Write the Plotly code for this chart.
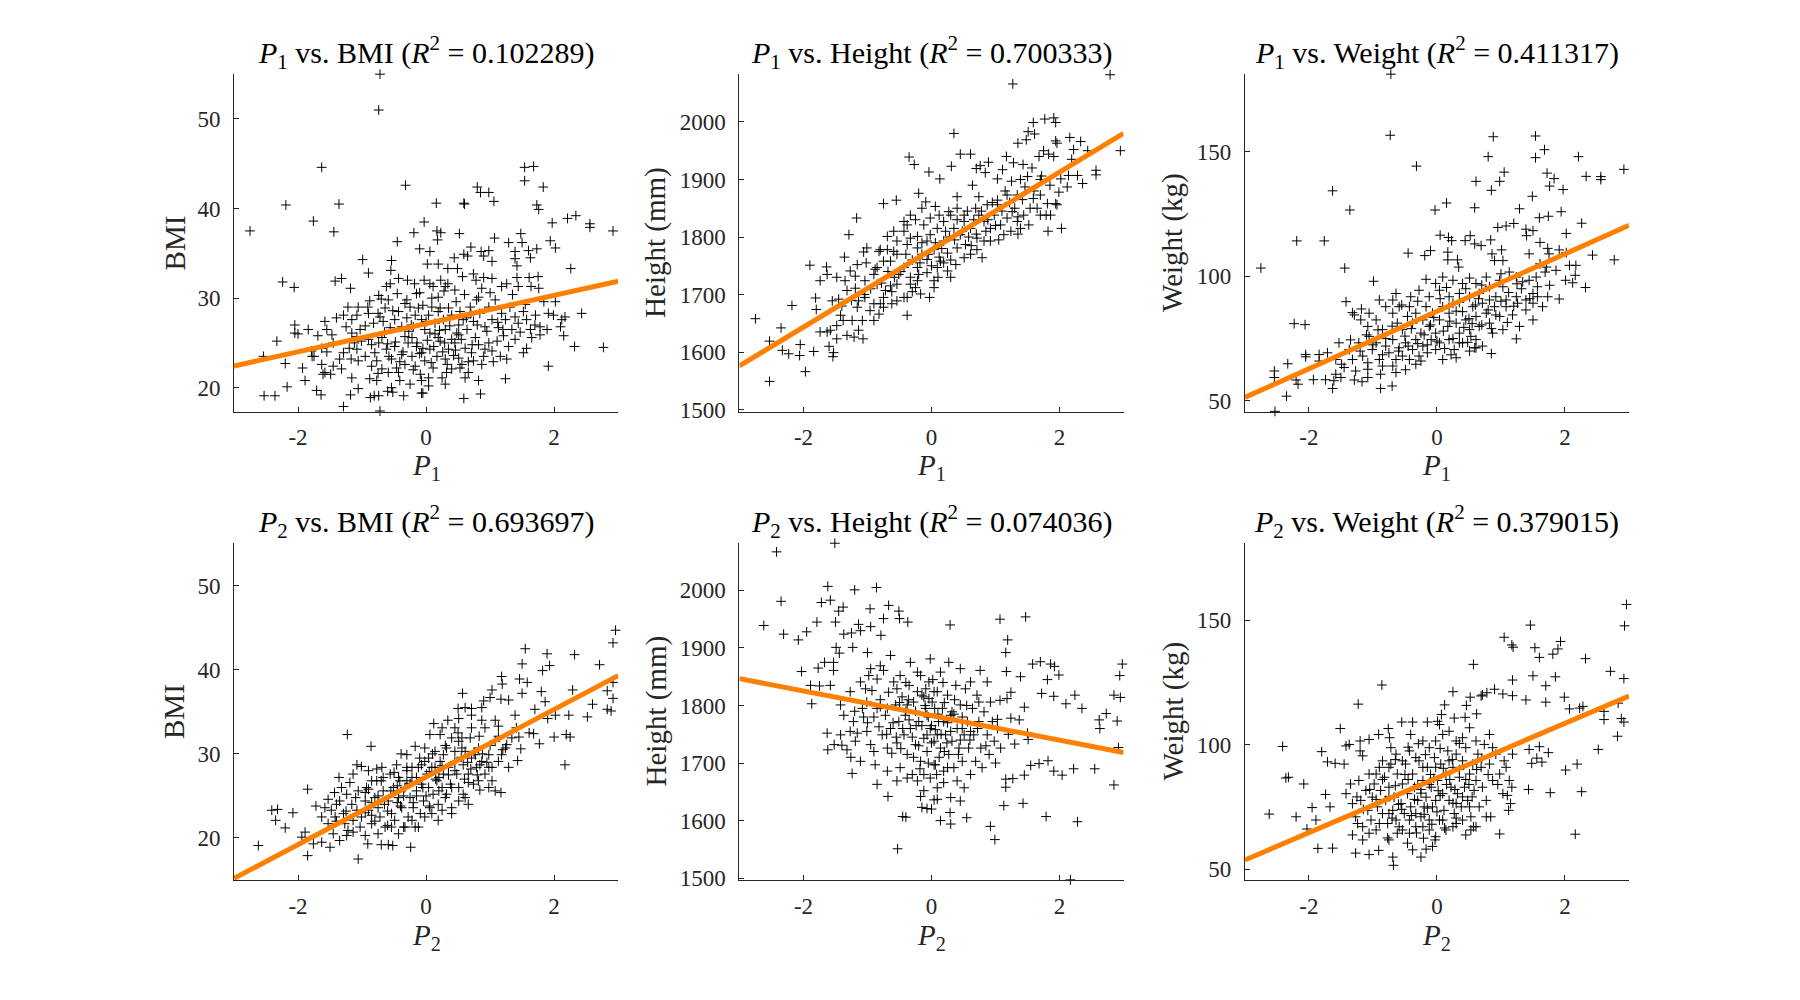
import plotly.graph_objects as go

# ---------------- data ----------------
# (P1, BMI)
p1_bmi = [
(-0.72,55.0),(-0.74,51.0),(-1.63,44.6),(-2.19,40.4),(-1.36,40.5),(-1.76,38.6),(-2.75,37.5),(-1.44,37.4),(-0.32,42.6),(1.54,44.6),
(1.68,44.7),(1.54,43.1),(1.83,42.4),(0.80,42.4),(0.85,41.8),(0.98,41.8),(1.06,40.8),(0.16,40.6),(0.59,40.6),(0.60,40.5),
(1.73,40.4),(1.76,39.9),(-0.03,38.5),(1.97,38.4),(2.21,38.9),(2.34,39.2),(2.56,38.3),(2.56,37.9),(2.92,37.5),(-0.19,37.3),
(0.17,37.5),(0.23,37.3),(0.52,37.2),(-0.45,36.3),(0.18,36.5),(1.48,37.2),(1.07,36.7),(1.94,36.4),(2.02,35.6),(2.26,33.3),
(2.43,28.3),(2.32,24.6),(2.77,24.5),(1.91,22.4),(1.24,21.0),(0.85,19.3),(0.59,18.8),(-0.07,19.4),(-0.05,19.4),(-0.35,19.1),
(-0.52,19.5),(-0.60,19.6),(-0.81,19.1),(-0.87,18.9),(-0.74,19.1),(-0.72,17.4),(-1.29,17.9),(-1.18,19.2),(-1.06,19.9),(-1.64,19.2),
(-1.71,19.7),(-1.89,20.8),(-2.17,20.1),(-2.36,19.1),(-2.53,19.1),(-2.54,23.5),(-2.33,25.2),(-2.20,22.7),(-1.93,22.2),(-2.24,31.8),
(-2.06,31.2),(-0.99,34.3),(-0.90,32.8),(-0.54,34.2),(-1.42,31.9),(-1.32,32.2),
(-0.10,35.5),(0.06,35.2),(0.44,34.5),(0.59,34.9),(0.65,34.7),(0.70,35.7),(0.86,35.2),(0.98,35.3),(0.90,34.7),(1.03,34.1),
(1.29,36.2),(1.39,35.2),(1.39,34.4),(1.50,36.2),(1.60,35.3),(1.63,34.5),(1.73,35.5),(0.02,33.8),(0.19,33.8),(0.34,33.3),
(0.49,33.3),(1.42,33.6),
(-0.55,33.1),(-0.43,32.2),(-0.29,32.0),(-0.56,31.6),(-0.62,31.3),(-0.18,31.6),(-0.15,30.5),(-0.03,32.0),(0.06,31.6),(0.11,31.3),
(0.23,32.0),(0.30,31.3),(0.34,31.6),(0.45,30.9),(0.57,32.4),(0.74,32.7),(0.78,32.0),(0.90,32.3),(1.03,32.2),(1.18,31.3),
(1.26,31.6),(1.42,32.3),(1.44,31.3),(1.61,32.3),(1.75,32.4),(1.64,31.3),(1.76,31.1),(0.87,31.1),(0.82,30.1),(0.19,30.1),
(0.09,30.0),(-0.30,29.8),(-0.74,30.3),(-0.70,29.9),(-1.18,31.1),
(-2.05,27.0),(-2.05,26.1),(-2.00,26.0),(-1.84,26.5),(-1.69,25.8),(-1.58,27.4),(-1.55,26.5),(-1.47,25.9),(-1.29,28.1),(-1.22,29.0),
(-1.16,27.6),(-1.08,28.1),(-1.06,29.0),(-1.03,26.5),(-0.90,28.3),(-0.91,29.0),(-0.82,27.2),(-0.75,28.3),(-0.67,27.4),(-0.64,28.9),
(-0.59,29.8),(-0.56,26.7),(-0.49,27.6),(-0.43,28.5),(-0.38,26.8),(-0.30,27.8),(-0.25,29.0),(-0.20,26.8),(-0.17,28.1),(-0.12,28.9),
(-0.07,27.6),(-0.02,26.5),(0.04,28.1),(0.09,29.0),(0.14,27.2),(0.19,28.5),(0.27,27.6),(0.30,26.5),(0.35,28.9),(0.40,28.1),
(0.51,27.0),(0.53,28.5),(0.58,27.6),(0.64,26.5),(0.69,29.0),(0.74,27.4),(0.79,29.8),(0.84,28.3),(0.92,26.8),(0.98,29.0),
(1.03,27.6),(1.08,29.8),(1.13,26.7),(1.18,28.3),(1.24,27.6),(1.31,29.0),(1.34,26.5),(1.39,27.9),(1.44,27.2),(1.52,28.5),
(1.57,27.6),(1.63,26.5),(1.71,28.1),(1.78,26.8),(1.84,29.6),(1.91,28.3),(2.02,29.6),(1.99,28.1),(2.10,26.8),(2.12,27.6),
(2.17,27.9),(1.89,26.5),(2.15,25.8),
(-1.78,23.5),(-1.75,23.5),(-1.63,22.6),(-1.61,21.5),(-1.58,21.7),(-1.49,21.5),(-1.45,22.4),(-1.35,23.2),(-1.32,22.1),(-1.20,24.4),
(-1.17,23.2),(-1.16,21.1),(-1.08,24.3),(-1.06,23.0),(-1.01,25.2),(-0.95,23.5),(-0.88,21.0),(-0.85,22.4),(-0.80,23.9),(-0.77,23.0),
(-0.74,25.0),(-0.69,22.1),(-0.62,24.3),(-0.59,21.7),(-0.54,23.2),(-0.49,24.6),(-0.46,22.2),(-0.41,20.8),(-0.38,23.7),(-0.33,22.6),
(-0.28,25.0),(-0.25,20.4),(-0.22,23.5),(-0.17,22.4),(-0.15,24.6),(-0.09,21.5),(-0.07,23.9),(-0.02,23.0),(0.04,21.1),(0.06,24.3),
(0.11,22.2),(0.17,23.5),(0.22,25.2),(0.25,21.1),(0.30,23.2),(0.35,24.3),(0.40,22.1),(0.45,25.0),(0.51,23.3),(0.56,22.6),
(0.61,24.4),(0.66,21.7),(0.71,23.9),(0.74,23.0),(0.82,24.8),(0.87,22.6),(0.90,23.5),(0.98,25.0),(1.03,24.1),(1.11,25.2),
(1.16,23.5),(1.26,23.2),(1.29,24.6),(1.39,25.4),(1.52,23.9),(1.57,24.4),(1.65,25.6),(1.78,25.9),(0.06,26.1),(-0.33,25.7),
(-0.69,25.6),(-1.08,25.7),(-0.90,25.4),(-0.22,25.6),(0.19,25.6),(0.51,25.9),(0.77,25.6),(0.40,25.4),(-1.16,26.1),(-1.45,25.0),
(-1.63,24.4),(-1.79,24.1),(-1.29,23.9),(-0.77,20.8),(-0.54,20.0),(-0.43,21.7),(0.04,20.2),(0.30,20.4),(0.61,21.1),(0.82,20.8),
(0.32,21.7),(-0.07,20.8),(0.53,22.2),
(-0.65,26.2),(-0.48,25.1),(-0.36,24.0),(-0.27,26.3),(-0.14,25.0),(-0.05,24.4),(0.02,25.3),(0.12,24.6),(0.21,26.4),(0.29,25.0),
(0.37,26.9),(0.46,24.2),(0.55,25.4),(0.63,27.8),(0.72,24.8),(0.80,27.0),(0.95,26.3),(1.12,27.3),(1.21,25.8),(-0.58,23.5),
(-0.41,22.9),(-0.20,22.0),(-0.10,23.8),(0.08,22.8),(0.26,24.0),(0.43,23.6),(0.66,22.9),(0.92,24.3),(-0.85,24.8),(-0.95,26.9),
(-1.12,25.0),(-1.25,26.8),(-1.40,27.8),(-0.72,27.9),(-0.52,28.6),(-0.33,29.4),(-0.05,29.2),(0.22,28.9),(0.47,29.6),(0.70,28.3),
(1.00,30.6),(1.35,30.4),(1.55,29.3),(1.70,27.0),(1.47,26.2),(0.28,30.8),(-0.10,30.6),(-0.45,30.5),(-0.88,29.7),(0.60,30.4),
(0.14,26.0),(-0.23,27.0),(0.48,26.1),(-0.60,24.9),(0.00,27.4),(0.33,22.6),(-0.75,21.6),(1.05,22.9),(1.20,26.5),(-1.55,24.0),
]

# (P1, Height mm)
p1_height = [
(2.79,2082),(1.27,2066),(1.77,2005),(1.91,2007),(1.94,1999),(1.59,1999),(1.51,1983),(1.61,1979),(0.35,1980),(1.35,1963),
(1.48,1969),(1.94,1967),(1.96,1963),(2.16,1973),(2.33,1966),(1.75,1950),(1.68,1940),(1.83,1944),(1.91,1940),(2.22,1952),
(2.44,1950),(2.95,1950),(2.19,1935),(-0.35,1939),(-0.27,1926),(0.45,1944),(0.61,1944),(0.31,1923),(-0.04,1913),(0.13,1901),
(0.89,1930),(0.76,1924),(1.17,1940),(1.28,1929),(1.43,1926),(1.57,1920),(1.11,1917),(2.57,1916),(2.57,1908),(2.28,1907),
(2.36,1893),(2.14,1907),(2.02,1901),(1.72,1906),(0.84,1912),(0.70,1919),(1.03,1901),(1.25,1897),(1.39,1900),(-0.75,1858),
(-0.55,1864),(-1.17,1833),(-1.29,1804),(-1.90,1751),(-1.06,1774),(-1.36,1765),(-1.64,1748),(-1.74,1724),(-2.18,1681),(-2.75,1658),
(-2.35,1642),(-2.53,1619),(-2.33,1603),(-2.23,1597),(-2.05,1613),(-2.06,1594),(-1.84,1601),(-1.97,1566),(-2.53,1549),(-1.54,1592),
(-1.60,1610),(-1.53,1599),(-0.38,1664),(-0.03,1695),(2.03,1815),(1.82,1810),(1.35,1805),
(-1.81,1694),(-1.80,1674),(-1.74,1635),(-1.63,1635),(-1.58,1638),(-1.48,1646),(-1.42,1664),(-1.32,1629),(-1.21,1626),(-1.14,1638),
(-1.07,1623),(-1.38,1655),(-1.24,1655),(-1.08,1655),(-0.90,1655),(-1.48,1623),(-1.55,1689),(-1.45,1692),(-1.63,1735),(-1.48,1730),
(-1.35,1724),(-1.19,1732),(-1.02,1755),(-1.04,1724),(-1.32,1707),(-1.19,1711),(-1.14,1689),(-1.04,1695),(-0.85,1747),(-0.85,1718),
(-0.75,1695),(-0.90,1684),(-0.82,1666),(-0.75,1678),(-0.62,1684),(-0.72,1707),(-0.64,1715),(-0.54,1689),(-0.43,1695),(-0.33,1718),
(-0.25,1712),(-0.17,1701),(-0.51,1735),(-0.64,1758),(-0.54,1770),(-0.43,1747),(-0.33,1730),(-0.22,1747),(-0.15,1770),(-0.07,1738),
(0.04,1724),(0.09,1747),(0.14,1758),(0.25,1741),(0.30,1730),(0.38,1752),(0.51,1764),(0.61,1770),(0.71,1778),(0.79,1764),
(0.82,1793),(0.40,1781),(0.25,1772),(0.04,1778),(-0.07,1793),(-0.22,1781),(-0.33,1798),(-0.43,1810),(-0.54,1793),(-0.69,1778),
(-0.80,1778),(-0.59,1775),(-0.38,1821),(-0.25,1830),(-0.12,1821),(-0.02,1833),(0.09,1815),(0.19,1827),(0.30,1838),(0.35,1815),
(0.45,1804),(0.51,1827),(0.61,1815),(0.69,1850),(0.74,1838),(0.82,1827),(0.92,1815),(0.98,1838),(1.03,1856),(1.08,1821),
(1.13,1804),(1.18,1833),(1.26,1844),(1.34,1827),(1.44,1838),(1.54,1850),(1.59,1867),(1.70,1873),(1.81,1858),(1.79,1838),
(1.94,1858),(1.70,1838),(1.46,1887),(1.34,1873),(1.18,1873),(1.03,1864),(0.87,1856),(0.74,1870),(0.64,1890),(0.40,1870),
(0.40,1850),(0.27,1844),(0.12,1838),(0.06,1853),(-0.09,1861),(-0.20,1876),(-0.33,1838),(-0.43,1827),(-0.59,1810),(-0.69,1801),
(-0.82,1775),(-1.01,1781),(-0.75,1758),(-0.88,1744),(-1.16,1752),(-1.27,1741),(-0.22,1801),(-0.02,1804),(0.19,1793),(0.53,1787),
(0.71,1798),(0.92,1793),(0.51,1838),(-0.15,1850),(-0.38,1787),(-0.07,1761),(0.19,1755),(-0.22,1724),(0.04,1712),(-0.38,1695),
(-0.54,1718),(-0.80,1684),(-0.96,1672),(-1.16,1678),(1.24,1810),(1.39,1815),(1.52,1821),(1.86,1838),(1.96,1856),(2.12,1887),
(1.99,1878),
(-0.30,1760),(-0.18,1755),(-0.05,1770),(0.06,1790),(0.16,1780),(0.28,1800),(0.36,1795),(0.48,1810),(0.58,1800),(0.66,1830),
(0.78,1845),(0.88,1830),(1.00,1820),(1.10,1845),(1.22,1860),(1.30,1850),(1.42,1865),(1.60,1880),(1.70,1900),(1.85,1890),
(-0.48,1740),(-0.58,1730),(-0.68,1740),(-0.78,1720),(-0.95,1710),(-1.05,1700),(-1.25,1690),(-1.40,1680),(-0.15,1790),(0.00,1750),
(0.12,1765),(0.22,1810),(0.40,1830),(0.56,1845),(0.70,1805),(0.95,1860),(1.15,1880),(1.50,1905),(-0.40,1770),(-0.20,1735),
(0.30,1760),(0.62,1785),(0.85,1810),(1.05,1795),(1.35,1835),(1.65,1850),(-0.90,1735),(-0.62,1705),(-0.30,1705),(0.10,1730),
]

# (P1, Weight kg)
p1_weight = [
(-0.72,181.1),(-0.73,156.6),(-0.32,144.2),(-1.63,134.3),(-1.36,126.6),(-2.19,114.2),(-1.76,114.2),(-2.75,103.3),(-1.44,103.3),(0.88,156.0),
(1.54,156.3),(1.68,150.8),(1.54,147.6),(0.80,148.0),(2.21,148.0),(1.72,141.4),(1.83,139.2),(1.76,136.2),(1.05,141.8),(0.61,138.1),
(0.98,138.1),(0.85,134.5),(1.97,134.8),(2.33,140.1),(2.56,140.0),(2.56,138.8),(2.92,142.9),(1.49,132.1),(0.15,129.4),(0.59,127.5),
(-0.03,126.6),(1.29,127.1),(1.94,125.9),(1.60,123.5),(1.74,124.1),(2.26,121.3),(2.02,117.2),(1.50,118.3),(2.43,108.5),(2.77,106.6),
(2.32,95.5),(1.91,90.9),(1.24,74.9),(0.85,69.0),(0.59,71.3),(-0.70,56.0),(-0.88,55.0),(-1.63,55.0),(-2.35,51.9),(-2.53,45.8),
(-2.54,62.0),(-2.54,59.4),(-2.33,64.9),(-2.17,56.7),(-2.20,58.4),(-1.93,58.5),(-2.05,68.6),(-2.05,67.7),(-2.23,81.0),(-2.06,80.6),
(-1.84,68.6),(-1.74,58.5),(-1.61,58.1),(-1.50,59.4),(-1.29,58.4),(-1.17,57.7),(-0.99,98.0),(-0.90,90.5),(-1.42,89.8),(-1.32,85.4),
(-1.18,86.9),(-0.45,109.3),(-0.19,108.3),(-0.10,110.3),(0.05,116.5),(0.18,115.6),(0.23,114.3),(0.17,109.7),(0.17,106.6),(0.32,106.6),
(0.34,103.7),(0.52,116.3),(0.44,114.3),(0.59,113.0),(0.69,112.3),(0.84,114.6),(0.86,109.0),(0.90,106.3),(1.01,110.6),(1.03,106.3),
(1.08,120.2),(0.95,119.6),(1.20,121.2),(1.39,118.9),(1.40,116.3),(1.44,109.0),(1.61,113.6),(1.73,111.2),(1.75,109.0),(1.91,110.6),
(2.02,109.5),(2.17,104.4),(2.07,104.4),(2.01,98.4),(2.12,97.4),(2.16,100.4),(1.86,102.4),(1.71,103.7),(1.61,105.0),(1.69,101.7),
(-0.17,98.8),(-0.02,97.1),(0.09,99.7),(0.25,98.4),(0.40,97.1),(0.51,99.3),(0.61,97.1),(0.77,99.7),(0.82,95.8),(0.98,98.4),
(1.03,95.8),(1.13,101.7),(1.24,99.7),(1.34,97.8),(1.44,98.4),(1.55,99.7),(1.57,95.8),(1.76,96.4),(1.73,91.8),(1.50,93.1),
(1.39,90.5),(1.24,91.8),(1.08,90.5),(0.92,91.8),(0.82,90.5),(0.66,93.1),(0.51,91.8),(0.35,93.1),(0.19,91.8),(0.04,94.4),
(-0.12,91.8),(-0.28,94.4),(-0.41,91.8),(-0.64,93.1),(-0.69,90.5),
(-1.29,84.5),(-1.19,82.5),(-1.08,79.9),(-1.06,85.2),(-0.95,82.5),(-0.85,78.6),(-0.80,87.8),(-0.69,85.2),(-0.62,81.2),(-0.59,87.8),
(-0.54,78.6),(-0.46,83.9),(-0.43,87.8),(-0.38,81.2),(-0.33,85.2),(-0.25,77.2),(-0.22,82.5),(-0.17,87.8),(-0.12,79.9),(-0.07,85.2),
(-0.02,77.2),(0.04,82.5),(0.09,87.8),(0.17,79.9),(0.19,85.2),(0.25,89.2),(0.30,81.2),(0.35,77.2),(0.40,85.8),(0.45,82.5),
(0.51,78.6),(0.56,87.8),(0.61,83.9),(0.66,79.9),(0.71,89.2),(0.77,85.2),(0.82,81.2),(0.90,87.8),(0.98,83.9),(1.03,78.6),
(1.08,87.8),(1.18,84.5),(1.26,89.2),(1.29,79.9),(1.39,86.5),(1.50,89.2),(1.57,91.8),(1.65,87.8),(1.50,82.5),(0.53,75.9),
(0.35,73.3),(0.61,71.3),
(-1.84,66.0),(-1.71,69.3),(-1.58,66.6),(-1.53,73.3),(-1.45,63.4),(-1.37,70.6),(-1.32,66.6),(-1.22,73.3),(-1.16,68.0),(-1.08,65.3),
(-1.06,75.9),(-1.01,70.6),(-0.95,73.3),(-0.90,66.6),(-0.85,64.0),(-0.80,72.0),(-0.75,69.3),(-0.69,74.6),(-0.64,66.6),(-0.59,71.3),
(-0.54,68.0),(-0.49,73.3),(-0.43,66.6),(-0.38,70.6),(-0.33,74.6),(-0.28,68.0),(-0.22,72.0),(-0.15,69.3),(-0.09,74.6),(-0.02,70.6),
(0.04,73.3),(0.09,66.6),(0.19,74.6),(0.27,70.6),(0.30,67.3),(0.40,73.3),(0.51,70.0),(0.61,74.6),(0.71,72.0),(0.87,77.2),
(-1.58,60.7),(-1.49,64.7),(-1.27,62.0),(-1.08,62.7),(-0.88,60.7),(-0.69,64.0),(-0.64,61.4),(-0.49,62.5),(-0.33,64.7),(-1.08,59.4),
(-0.50,76.0),(-0.40,79.0),(-0.30,73.0),(-0.20,76.5),(-0.10,80.5),(0.00,74.0),(0.10,78.0),(0.20,82.0),(0.30,86.0),(0.42,79.5),
(0.50,83.0),(0.60,88.5),(0.70,80.5),(0.80,86.5),(0.92,84.5),(1.00,90.0),(1.12,93.5),(1.20,88.0),(1.32,95.0),(1.45,91.0),
(-0.70,80.0),(-0.80,75.0),(-0.92,78.5),(-1.00,72.5),(-1.10,76.5),(-1.20,70.0),(-1.35,74.5),(-0.55,88.5),(-0.30,90.0),(0.05,91.0),
(0.15,95.5),(0.45,95.0),(0.70,96.5),(-0.60,70.0),(-0.25,66.0),(0.12,71.0),(0.25,75.0),(0.55,81.0),(0.85,79.0),(-0.45,72.0),
(-0.05,83.5),(0.35,89.5),(0.65,91.0),(1.10,81.5),(-0.85,68.5),(-0.15,72.5),(0.22,68.5),(0.48,73.5),(1.25,97.0),(1.00,101.0),
]

# (P2, BMI)
p2_bmi = [
(2.96,44.7),(2.92,43.2),(1.55,42.5),(1.89,41.9),(2.32,41.8),(1.50,40.7),(1.93,40.5),(2.71,40.6),(1.82,39.9),(1.18,39.2),
(1.46,38.9),(1.58,38.5),(1.19,38.3),(0.57,37.2),(1.50,37.2),(1.80,37.4),(2.29,37.6),(2.83,37.5),(2.92,38.5),(2.92,36.6),
(2.60,35.9),(2.83,35.3),(2.89,35.1),(2.52,34.4),(2.23,34.6),(1.86,36.2),(1.70,35.3),(2.02,34.6),(1.90,34.2),(1.03,37.6),
(0.90,36.3),(1.00,36.7),(1.17,36.5),(1.29,36.4),(1.39,34.6),(1.41,33.1),(1.61,32.5),(1.68,32.4),(1.77,31.2),(2.00,32.0),
(2.19,32.3),(2.25,32.0),(2.17,28.7),(1.43,29.2),(1.48,30.6),(1.26,31.1),(1.13,32.1),(1.17,25.4),(0.98,26.0),(0.84,25.7),
(0.50,35.4),(0.61,35.5),(0.71,35.4),(0.87,35.5),(0.51,34.2),(0.71,34.6),(0.87,34.0),(1.08,34.0),(0.92,33.1),(0.71,33.1),
(1.13,33.3),(0.12,33.6),(0.34,34.0),(0.25,33.1),(0.45,33.1),(0.06,32.3),(0.22,32.3),(0.40,31.9),(0.56,31.9),(0.69,31.9),
(0.83,32.1),(-0.02,30.7),(-0.17,30.9),(-0.30,29.9),(-0.39,30.0),(-1.23,32.3),(-0.86,30.9),(-1.36,27.2),(-1.85,25.8),(-1.53,24.6),
(-1.72,23.8),(-1.63,22.5),(-2.41,23.3),(-2.32,23.4),(-2.35,22.1),(-2.08,23.0),(-2.20,21.2),(-1.89,20.7),(-1.94,20.1),(-2.62,19.1),
(-1.85,17.9),(-1.76,19.3),(-1.63,19.5),(-1.50,18.9),(-1.06,17.5),(-0.91,19.3),(-0.70,19.2),(-0.59,19.2),(-0.52,19.1),(-0.24,18.9),
(-1.14,27.6),(-1.01,28.5),(-1.43,25.4),
(-1.58,23.6),(-1.48,23.3),(-1.42,22.5),(-1.35,24.4),(-1.29,22.9),(-1.27,21.7),(-1.22,20.9),(-1.16,24.0),(-1.14,22.1),(-1.08,23.3),
(-1.06,25.6),(-1.03,21.3),(-1.01,22.5),(-0.95,24.4),(-0.93,26.0),(-0.90,23.3),(-0.85,21.7),(-0.80,24.8),(-0.77,26.8),(-0.75,23.6),
(-0.72,22.5),(-0.69,28.4),(-0.67,25.6),(-0.64,21.3),(-0.59,24.4),(-0.56,27.6),(-0.54,22.9),(-0.51,26.0),(-0.49,22.1),(-0.46,28.7),
(-0.43,24.8),(-0.41,26.8),(-0.38,23.6),(-0.35,21.3),(-0.33,26.0),(-0.30,28.4),(-0.28,22.5),(-0.25,24.8),(-0.22,27.2),(-0.20,23.6),
(-0.17,21.3),(-0.15,25.6),(-0.12,28.4),(-0.09,22.9),(-0.07,26.4),(-0.04,24.4),(-0.02,29.1),(0.01,27.6),(0.04,26.0),(0.06,23.6),
(0.09,28.4),(0.11,25.2),(0.14,30.3),(0.17,26.8),(0.19,24.0),(0.22,29.1),(0.25,26.0),(0.27,27.6),(0.30,24.8),(0.32,30.7),
(0.35,28.4),(0.38,26.4),(0.40,23.6),(0.45,29.1),(0.48,27.6),(0.51,26.0),(0.56,30.7),(0.58,28.7),(0.61,24.8),(0.66,27.6),
(0.71,29.5),(0.74,26.4),(0.79,28.4),(0.82,30.7),(0.87,29.1),(0.92,27.6),(0.98,29.9),(1.03,28.4),(1.08,31.5),(1.13,29.1),
(1.18,29.9),(1.24,30.7),(1.29,28.4),(1.34,31.9),(-1.24,25.2),(-1.32,26.0),(-1.40,24.0),(-1.53,21.7),(-1.45,20.5),(-1.35,19.7),
(-1.24,20.3),(-1.14,20.7),(-0.95,20.3),(-0.85,22.7),(-0.75,20.5),(-0.54,21.3),(-0.43,20.5),(-0.33,21.3),(-0.22,22.1),(-0.12,21.3),
(-0.02,22.5),(0.09,22.9),(0.19,22.1),(0.25,23.3),(0.40,22.9),(0.51,24.4),(0.58,25.2),(0.66,24.0),(-1.19,26.6),(-1.08,28.7),
(-0.90,28.0),(-0.77,28.2),(-0.67,27.2),(-0.85,26.8),(-0.95,25.4),(-0.43,27.2),(-0.30,26.8),(-0.22,28.4),(-0.07,28.7),(0.04,29.5),
(0.14,28.4),(0.27,29.9),(0.45,30.3),(0.51,31.5),(0.61,30.3),(0.77,29.9),(0.84,28.7),(0.66,26.6),(0.82,26.8),(0.98,28.4),
(1.08,25.6),(1.03,26.8),
(-0.95,23.0),(-0.85,24.2),(-0.75,25.0),(-0.65,24.0),(-0.55,25.6),(-0.45,26.2),(-0.35,25.0),(-0.25,26.5),(-0.15,27.2),(-0.05,26.0),
(0.05,27.9),(0.15,27.0),(0.25,28.6),(0.35,27.5),(0.45,28.0),(0.55,29.6),(0.65,29.0),(0.75,30.2),(0.88,30.0),(1.00,31.0),
(-0.60,23.2),(-0.40,23.8),(-0.20,24.2),(0.00,25.0),(0.20,25.6),(0.40,26.0),(0.60,27.0),(0.80,27.5),(-0.70,26.8),(-0.50,27.8),
(-0.30,28.0),(-0.10,29.5),(0.10,30.0),(0.30,31.0),(0.50,32.5),(-1.10,24.8),(-1.25,23.2),(-1.40,22.0),(-0.90,25.8),(-0.15,25.0),
(0.20,27.2),(0.70,28.2),(-0.45,24.2),(0.05,23.8),(-0.80,22.0),(-0.60,21.5),(0.32,25.2),(0.95,29.0),(1.20,30.5),(1.45,32.0),
]

# (P2, Height mm)
p2_height = [
(-1.51,2082),(-2.42,2067),(-2.35,1981),(-1.62,2007),(-1.20,2001),(-0.86,2005),(-2.62,1939),(-2.31,1924),(-1.95,1928),(-2.08,1914),
(-1.79,1945),(-1.72,1979),(-1.58,1983),(-1.38,1971),(-1.45,1964),(-1.50,1945),(-0.96,1968),(-0.67,1974),(-0.51,1964),(-0.75,1951),
(-0.50,1951),(-0.37,1945),(0.29,1940),(1.07,1950),(1.47,1954),(-2.03,1859),(-1.89,1835),(-1.75,1834),(-1.87,1803),(-1.58,1835),
(-1.77,1865),(-1.67,1875),(-1.53,1875),(-1.53,1861),(-1.49,1901),(-1.44,1891),(-1.37,1924),(-1.25,1926),(-1.14,1941),(-1.11,1930),
(-0.95,1937),(-0.79,1922),(-1.00,1892),(-1.23,1901),(1.19,1914),(1.16,1892),(1.58,1872),(1.70,1876),(1.86,1872),(1.92,1868),
(1.17,1859),(1.39,1850),(1.99,1853),(1.81,1845),(2.98,1872),(2.94,1852),(1.72,1821),(1.91,1816),(2.24,1818),(2.10,1803),
(2.35,1795),(2.85,1818),(2.95,1814),(2.73,1786),(2.62,1775),(2.63,1760),(2.90,1773),(2.92,1727),(2.85,1662),(2.55,1690),
(2.22,1690),(2.04,1679),(1.91,1686),(1.82,1704),(1.68,1699),(1.55,1696),(1.45,1679),(1.27,1673),(1.16,1658),(1.43,1630),
(1.79,1607),(2.28,1598),(2.17,1497),(0.99,1567),(0.92,1590),(1.13,1626),(0.55,1605),(0.30,1594),(0.14,1600),(0.29,1614),
(0.30,1640),(0.45,1634),(0.04,1636),(0.09,1637),(-0.17,1642),(-0.15,1623),(-0.07,1621),(0.00,1620),(-0.45,1607),(-0.40,1606),
(-0.68,1642),(-0.53,1551),(1.50,1752),(1.51,1741),(1.30,1733),(1.45,1797),(1.37,1775),(1.24,1778),(1.03,1776),(1.24,1823),
(1.18,1812),(1.07,1809),(0.87,1841),(0.76,1861),(1.16,1672),
(-1.63,1752),(-1.62,1723),(-1.52,1732),(-1.42,1749),(-1.40,1731),(-1.32,1723),(-1.27,1755),(-1.26,1710),(-1.24,1682),(-1.19,1738),
(-1.16,1752),(-1.11,1703),(-1.08,1795),(-1.06,1780),(-1.03,1829),(-1.01,1806),(-0.98,1852),(-0.95,1732),(-0.93,1826),(-0.90,1780),
(-0.88,1697),(-0.85,1846),(-0.82,1763),(-0.80,1798),(-0.77,1749),(-0.75,1861),(-0.72,1783),(-0.69,1726),(-0.67,1823),(-0.64,1760),
(-0.62,1717),(-0.59,1841),(-0.56,1801),(-0.54,1735),(-0.51,1772),(-0.49,1692),(-0.46,1815),(-0.43,1749),(-0.41,1783),(-0.38,1715),
(-0.35,1835),(-0.33,1760),(-0.30,1680),(-0.28,1806),(-0.25,1732),(-0.22,1858),(-0.20,1772),(-0.17,1703),(-0.15,1818),(-0.12,1743),
(-0.09,1795),(-0.07,1720),(-0.04,1841),(-0.02,1760),(0.01,1806),(0.04,1738),(0.06,1697),(0.09,1824),(0.11,1772),(0.14,1726),
(0.17,1795),(0.19,1686),(0.22,1749),(0.25,1818),(0.27,1715),(0.30,1783),(0.32,1738),(0.35,1692),(0.38,1835),(0.40,1760),
(0.43,1726),(0.45,1801),(0.48,1703),(0.51,1749),(0.53,1829),(0.56,1772),(0.58,1726),(0.61,1680),(0.64,1795),(0.66,1749),
(0.69,1703),(0.71,1818),(0.74,1772),(0.77,1726),(0.79,1692),(0.82,1789),(0.87,1749),(0.90,1715),(0.95,1772),(0.98,1738),
(1.03,1760),(1.08,1726),(0.92,1806),(0.74,1806),(0.61,1841),(0.45,1864),(0.27,1875),(0.14,1858),(-0.02,1881),(-0.17,1852),
(-0.33,1875),(-0.49,1852),(-0.64,1887),(-0.80,1869),(-0.95,1864),(-1.11,1841),(-1.27,1824),(-1.37,1783),(-1.42,1801),(-1.22,1772),
(-1.01,1755),(-0.85,1795),(-0.69,1795),(-0.54,1829),(-0.38,1801),(-0.22,1824),(-0.07,1783),(0.06,1758),(0.19,1772),(0.32,1789),
(0.48,1780),(0.61,1755),(-0.38,1674),(-0.22,1669),(-0.02,1674),(0.09,1657),(0.19,1666),(0.40,1669),(0.51,1657),(-0.12,1652),
(-0.54,1669),(-0.69,1686),(-0.85,1663),(-0.12,1680),(0.04,1697),(0.25,1692),(0.09,1749),(-0.07,1749),(-0.04,1812),(0.04,1824),
(-0.09,1829),
(-0.55,1745),(-0.45,1760),(-0.35,1775),(-0.25,1790),(-0.15,1765),(-0.05,1780),(0.05,1795),(0.15,1750),(0.25,1770),(0.35,1785),
(0.45,1740),(-0.50,1805),(-0.40,1790),(-0.30,1745),(-0.20,1730),(-0.10,1800),(0.00,1735),(0.10,1785),(0.20,1805),(0.30,1755),
(0.42,1715),(-0.60,1770),(-0.48,1725),(-0.36,1810),(-0.24,1765),(-0.12,1815),(0.00,1765),(0.12,1710),(0.24,1735),(0.36,1810),
(0.48,1760),(-0.05,1700),(0.08,1680),(-0.18,1690),(0.20,1720),(-0.28,1710),(0.60,1740),(0.72,1760),(-0.70,1750),(-0.80,1810),
(0.02,1845),(0.18,1840),(-0.40,1840),(0.55,1800),(0.85,1730),(1.00,1700),(1.20,1750),(-1.00,1770),(-1.20,1790),(-0.90,1720),
]

# (P2, Weight kg)
p2_weight = [
(2.96,156.4),(2.93,147.8),(1.46,148.1),(1.05,143.2),(1.17,140.1),(1.19,139.2),(1.53,139.0),(1.93,141.5),(1.89,138.5),(1.81,136.4),
(1.60,135.1),(2.32,134.6),(0.57,132.3),(2.71,129.5),(2.92,126.6),(1.18,126.0),(1.50,127.7),(1.85,127.3),(1.70,123.7),(-0.86,124.0),
(-1.23,116.3),(0.25,121.3),(0.90,122.3),(0.78,120.9),(0.69,119.6),(1.03,120.4),(1.18,119.7),(1.39,118.0),(1.70,117.1),(1.99,119.1),
(2.07,114.4),(2.23,114.7),(2.28,115.4),(2.61,113.4),(2.61,110.1),(2.83,116.7),(2.88,110.5),(2.92,109.1),(2.82,103.4),(2.52,98.1),
(2.19,92.2),(2.01,89.8),(1.77,80.7),(2.26,81.1),(2.16,64.0),(1.74,96.8),(1.56,94.6),(1.48,92.5),(1.64,93.0),(1.44,98.1),
(1.60,99.2),(1.43,82.0),(0.98,64.1),(-2.62,72.1),(-2.41,99.3),(-2.36,86.6),(-2.32,86.9),(-2.20,71.0),(-2.08,84.2),(-2.03,66.1),
(-1.95,74.7),(-1.89,69.7),(-1.86,58.3),(-1.80,97.2),(-1.74,80.0),(-1.71,93.1),(-1.67,75.0),(-1.63,58.4),(-1.59,92.5),(-1.51,106.5),
(-1.45,92.2),(-1.42,99.5),(-1.37,100.1),(-1.20,101.5),(-1.20,97.5),(-1.16,95.5),(-1.06,102.1),(-0.91,104.1),(-0.76,106.5),(-0.74,102.8),
(-0.72,98.8),(-0.55,109.1),(-0.38,109.1),(-0.41,104.1),(-0.29,100.4),(-0.15,109.1),(0.01,109.4),(0.04,108.1),(0.12,116.0),(0.07,112.1),
(0.27,110.7),(0.44,111.0),(0.46,115.8),(0.52,119.1),(0.62,112.4),(0.71,120.0),(-1.27,56.4),(-1.06,55.8),(-0.91,57.5),(-0.69,54.8),
(-0.68,51.5),(-0.53,45.4),(-0.46,60.4),(-0.25,54.8),(-0.17,58.0),(-0.07,59.1),(-0.03,61.7),(-0.21,62.4),(-0.38,57.7),(-1.32,63.7),
(-0.77,62.5),(-0.62,64.4),(0.14,65.7),(0.30,68.3),(0.45,63.7),(0.53,65.7),(0.57,67.0),(0.84,71.0),(1.12,73.6),(1.15,76.3),
(1.10,79.6),(1.17,82.9),
(-1.42,80.3),(-1.35,84.2),(-1.32,76.3),(-1.27,71.0),(-1.24,68.3),(-1.22,85.6),(-1.19,77.6),(-1.16,67.0),(-1.11,81.6),(-1.08,73.6),
(-1.06,88.2),(-1.03,69.7),(-1.01,78.9),(-0.98,84.2),(-0.95,65.7),(-0.93,75.0),(-0.90,90.9),(-0.88,81.6),(-0.85,72.3),(-0.82,86.9),
(-0.80,77.6),(-0.77,68.3),(-0.75,82.9),(-0.72,92.2),(-0.69,73.6),(-0.67,78.9),(-0.64,69.7),(-0.62,88.2),(-0.59,67.0),(-0.56,76.3),
(-0.54,84.2),(-0.51,72.3),(-0.49,92.2),(-0.46,80.3),(-0.43,69.7),(-0.41,75.0),(-0.38,88.2),(-0.35,82.9),(-0.33,67.0),(-0.30,77.6),
(-0.28,93.5),(-0.25,71.0),(-0.22,85.6),(-0.20,75.0),(-0.17,78.9),(-0.15,90.9),(-0.12,69.7),(-0.09,82.9),(-0.07,75.0),(-0.04,94.8),
(-0.02,77.6),(0.01,85.6),(0.04,69.7),(0.06,92.2),(0.09,80.3),(0.11,73.6),(0.14,88.2),(0.17,97.5),(0.19,77.6),(0.22,82.9),
(0.25,90.9),(0.27,72.3),(0.30,96.2),(0.32,80.3),(0.35,86.9),(0.38,75.0),(0.40,93.5),(0.43,82.9),(0.45,98.8),(0.48,77.6),
(0.51,88.2),(0.53,71.0),(0.56,92.2),(0.58,81.6),(0.61,85.6),(0.64,96.2),(0.66,75.0),(0.69,90.9),(0.71,82.9),(0.74,100.1),
(0.77,77.6),(0.82,92.2),(0.87,85.6),(0.92,96.2),(0.98,88.2),(1.03,80.3),(1.08,90.9),(1.13,85.6),(1.18,96.2),(-0.02,101.5),
(0.09,104.1),(-0.12,98.8),(-0.22,101.5),(-0.33,94.8),(-0.43,97.5),(-0.54,93.5),(-0.64,96.2),(-0.75,90.9),(-0.85,93.5),(-0.95,88.2),
(0.19,105.4),(0.30,101.5),(0.40,102.8),(0.51,106.8),(0.61,101.5),(0.82,104.1),(0.87,98.8),(-0.22,90.9),(-0.02,90.9),(0.19,93.5),
(0.09,69.7),(-0.12,65.7),(-0.33,72.3),(-0.54,65.7),(-0.75,72.3),(-0.90,68.3),(-1.06,64.4),(-1.16,61.7),(-0.75,61.7),(-0.43,64.4),
(-0.22,67.0),(-0.02,63.0),(0.25,67.0),(0.40,69.7),(0.61,67.0),(0.77,71.0),(0.51,75.0),(0.30,76.3),
(-0.75,79.0),(-0.65,83.5),(-0.55,74.0),(-0.45,86.0),(-0.35,78.0),(-0.25,82.0),(-0.15,74.5),(-0.05,86.5),(0.05,79.5),(0.15,84.0),
(0.25,76.5),(0.35,90.0),(0.45,86.0),(0.55,79.0),(-0.70,70.5),(-0.60,76.0),(-0.50,88.0),(-0.40,71.5),(-0.30,84.0),(-0.20,72.0),
(-0.10,88.0),(0.00,73.0),(0.10,90.5),(0.20,86.0),(0.30,70.5),(0.40,79.0),(0.50,84.0),(0.62,90.0),(-0.85,86.0),(-0.95,78.0),
(-1.05,82.0),(-1.15,74.0),(-1.25,79.0),(-0.08,68.0),(0.12,66.5),(-0.32,64.5),(0.24,94.0),(-0.18,96.0),(0.05,98.5),(0.35,100.5),
(0.70,94.5),(0.80,88.0),(0.95,84.0),(1.05,93.5),(-0.65,94.0),(-0.45,99.0),(-0.25,80.5),(0.02,81.5),(-0.12,84.0),(0.28,82.0),
]

# least-squares line values read at P = -3 and P = 3
fit_x = [-3.0, 3.0]
fit_p1_bmi = [22.43, 31.88]
fit_p1_height = [1576, 1980]
fit_p1_weight = [51.4, 120.5]
fit_p2_bmi = [15.2, 39.3]
fit_p2_height = [1846.7, 1718.4]
fit_p2_weight = [53.6, 119.6]

titles = [
    "<i>P</i><sub>1</sub> vs. BMI (<i>R</i><sup>2</sup> = 0.102289)",
    "<i>P</i><sub>1</sub> vs. Height (<i>R</i><sup>2</sup> = 0.700333)",
    "<i>P</i><sub>1</sub> vs. Weight (<i>R</i><sup>2</sup> = 0.411317)",
    "<i>P</i><sub>2</sub> vs. BMI (<i>R</i><sup>2</sup> = 0.693697)",
    "<i>P</i><sub>2</sub> vs. Height (<i>R</i><sup>2</sup> = 0.074036)",
    "<i>P</i><sub>2</sub> vs. Weight (<i>R</i><sup>2</sup> = 0.379015)",
]
xlabels = ["<i>P</i><sub>1</sub>"] * 3 + ["<i>P</i><sub>2</sub>"] * 3
ylabels = ["BMI", "Height (mm)", "Weight (kg)"] * 2
x_ticks = [-2, 0, 2]
bmi_ticks = [20, 30, 40, 50]
height_ticks = [1500, 1600, 1700, 1800, 1900, 2000]
weight_ticks = [50, 100, 150]

# ---------------- layout / styling ----------------
FONT = "Liberation Serif"
INK = "#262626"
ORANGE = "rgb(255,128,0)"

x_domains = [[0.13, 0.3434], [0.4108, 0.6242], [0.6916, 0.905]]
y_domains = [[0.5838, 0.925], [0.11, 0.4512]]
y_ranges = [[17.33, 55.0], [1496.5, 2083], [45.7, 181.1],
            [14.98, 55.1], [1496.4, 2082.8], [45.5, 181.2]]
y_tickvals = [bmi_ticks, height_ticks, weight_ticks] * 2
ylabel_x = [174.5 / 1800, 656 / 1800, 1173 / 1800]
title_y = [0.947, 0.473]
xlabel_y = [0.528, 0.053]

panels = [(p1_bmi, fit_p1_bmi), (p1_height, fit_p1_height), (p1_weight, fit_p1_weight),
          (p2_bmi, fit_p2_bmi), (p2_height, fit_p2_height), (p2_weight, fit_p2_weight)]

fig = go.Figure()
annotations = []
for i, (pts, fit) in enumerate(panels):
    row, col = divmod(i, 3)
    n = i + 1
    xa = "x" if n == 1 else f"x{n}"
    ya = "y" if n == 1 else f"y{n}"
    fig.add_trace(go.Scatter(
        x=[p[0] for p in pts], y=[p[1] for p in pts], xaxis=xa, yaxis=ya,
        mode="markers", cliponaxis=False, showlegend=False,
        marker=dict(symbol="cross-thin", size=7, color="black",
                    line=dict(width=1, color="black")),
    ))
    fig.add_trace(go.Scatter(
        x=fit_x, y=fit, xaxis=xa, yaxis=ya, mode="lines", showlegend=False,
        line=dict(color=ORANGE, width=5),
    ))
    axis_common = dict(showline=True, linecolor=INK, linewidth=1, mirror=False,
                       showgrid=False, zeroline=False, ticks="inside", ticklen=5,
                       tickwidth=1, tickcolor=INK,
                       tickfont=dict(family=FONT, size=23, color=INK))
    fig.update_layout({
        ("xaxis" if n == 1 else f"xaxis{n}"): dict(
            domain=x_domains[col], anchor=ya, range=[-3.0, 3.0],
            tickvals=x_ticks, ticktext=["-2", "0", "2"], ticklabelstandoff=5,
            **axis_common),
        ("yaxis" if n == 1 else f"yaxis{n}"): dict(
            domain=y_domains[row], anchor=xa, range=y_ranges[i],
            tickvals=y_tickvals[i], ticklabelstandoff=8, **axis_common),
    })
    cx = sum(x_domains[col]) / 2
    cy = sum(y_domains[row]) / 2
    annotations.append(dict(text=titles[i], x=cx, y=title_y[row], xref="paper", yref="paper",
                            showarrow=False, xanchor="center", yanchor="middle",
                            font=dict(family=FONT, size=30, color="black")))
    annotations.append(dict(text=xlabels[i], x=cx, y=xlabel_y[row], xref="paper", yref="paper",
                            showarrow=False, xanchor="center", yanchor="middle",
                            font=dict(family=FONT, size=29, color=INK)))
    annotations.append(dict(text=ylabels[i], x=ylabel_x[col], y=cy, xref="paper", yref="paper",
                            showarrow=False, xanchor="center", yanchor="middle", textangle=-90,
                            font=dict(family=FONT, size=29, color=INK)))

fig.update_layout(width=1800, height=1000, margin=dict(l=0, r=0, t=0, b=0),
                  paper_bgcolor="white", plot_bgcolor="white",
                  font=dict(family=FONT, color=INK),
                  annotations=annotations)
fig.write_html("out.html")
